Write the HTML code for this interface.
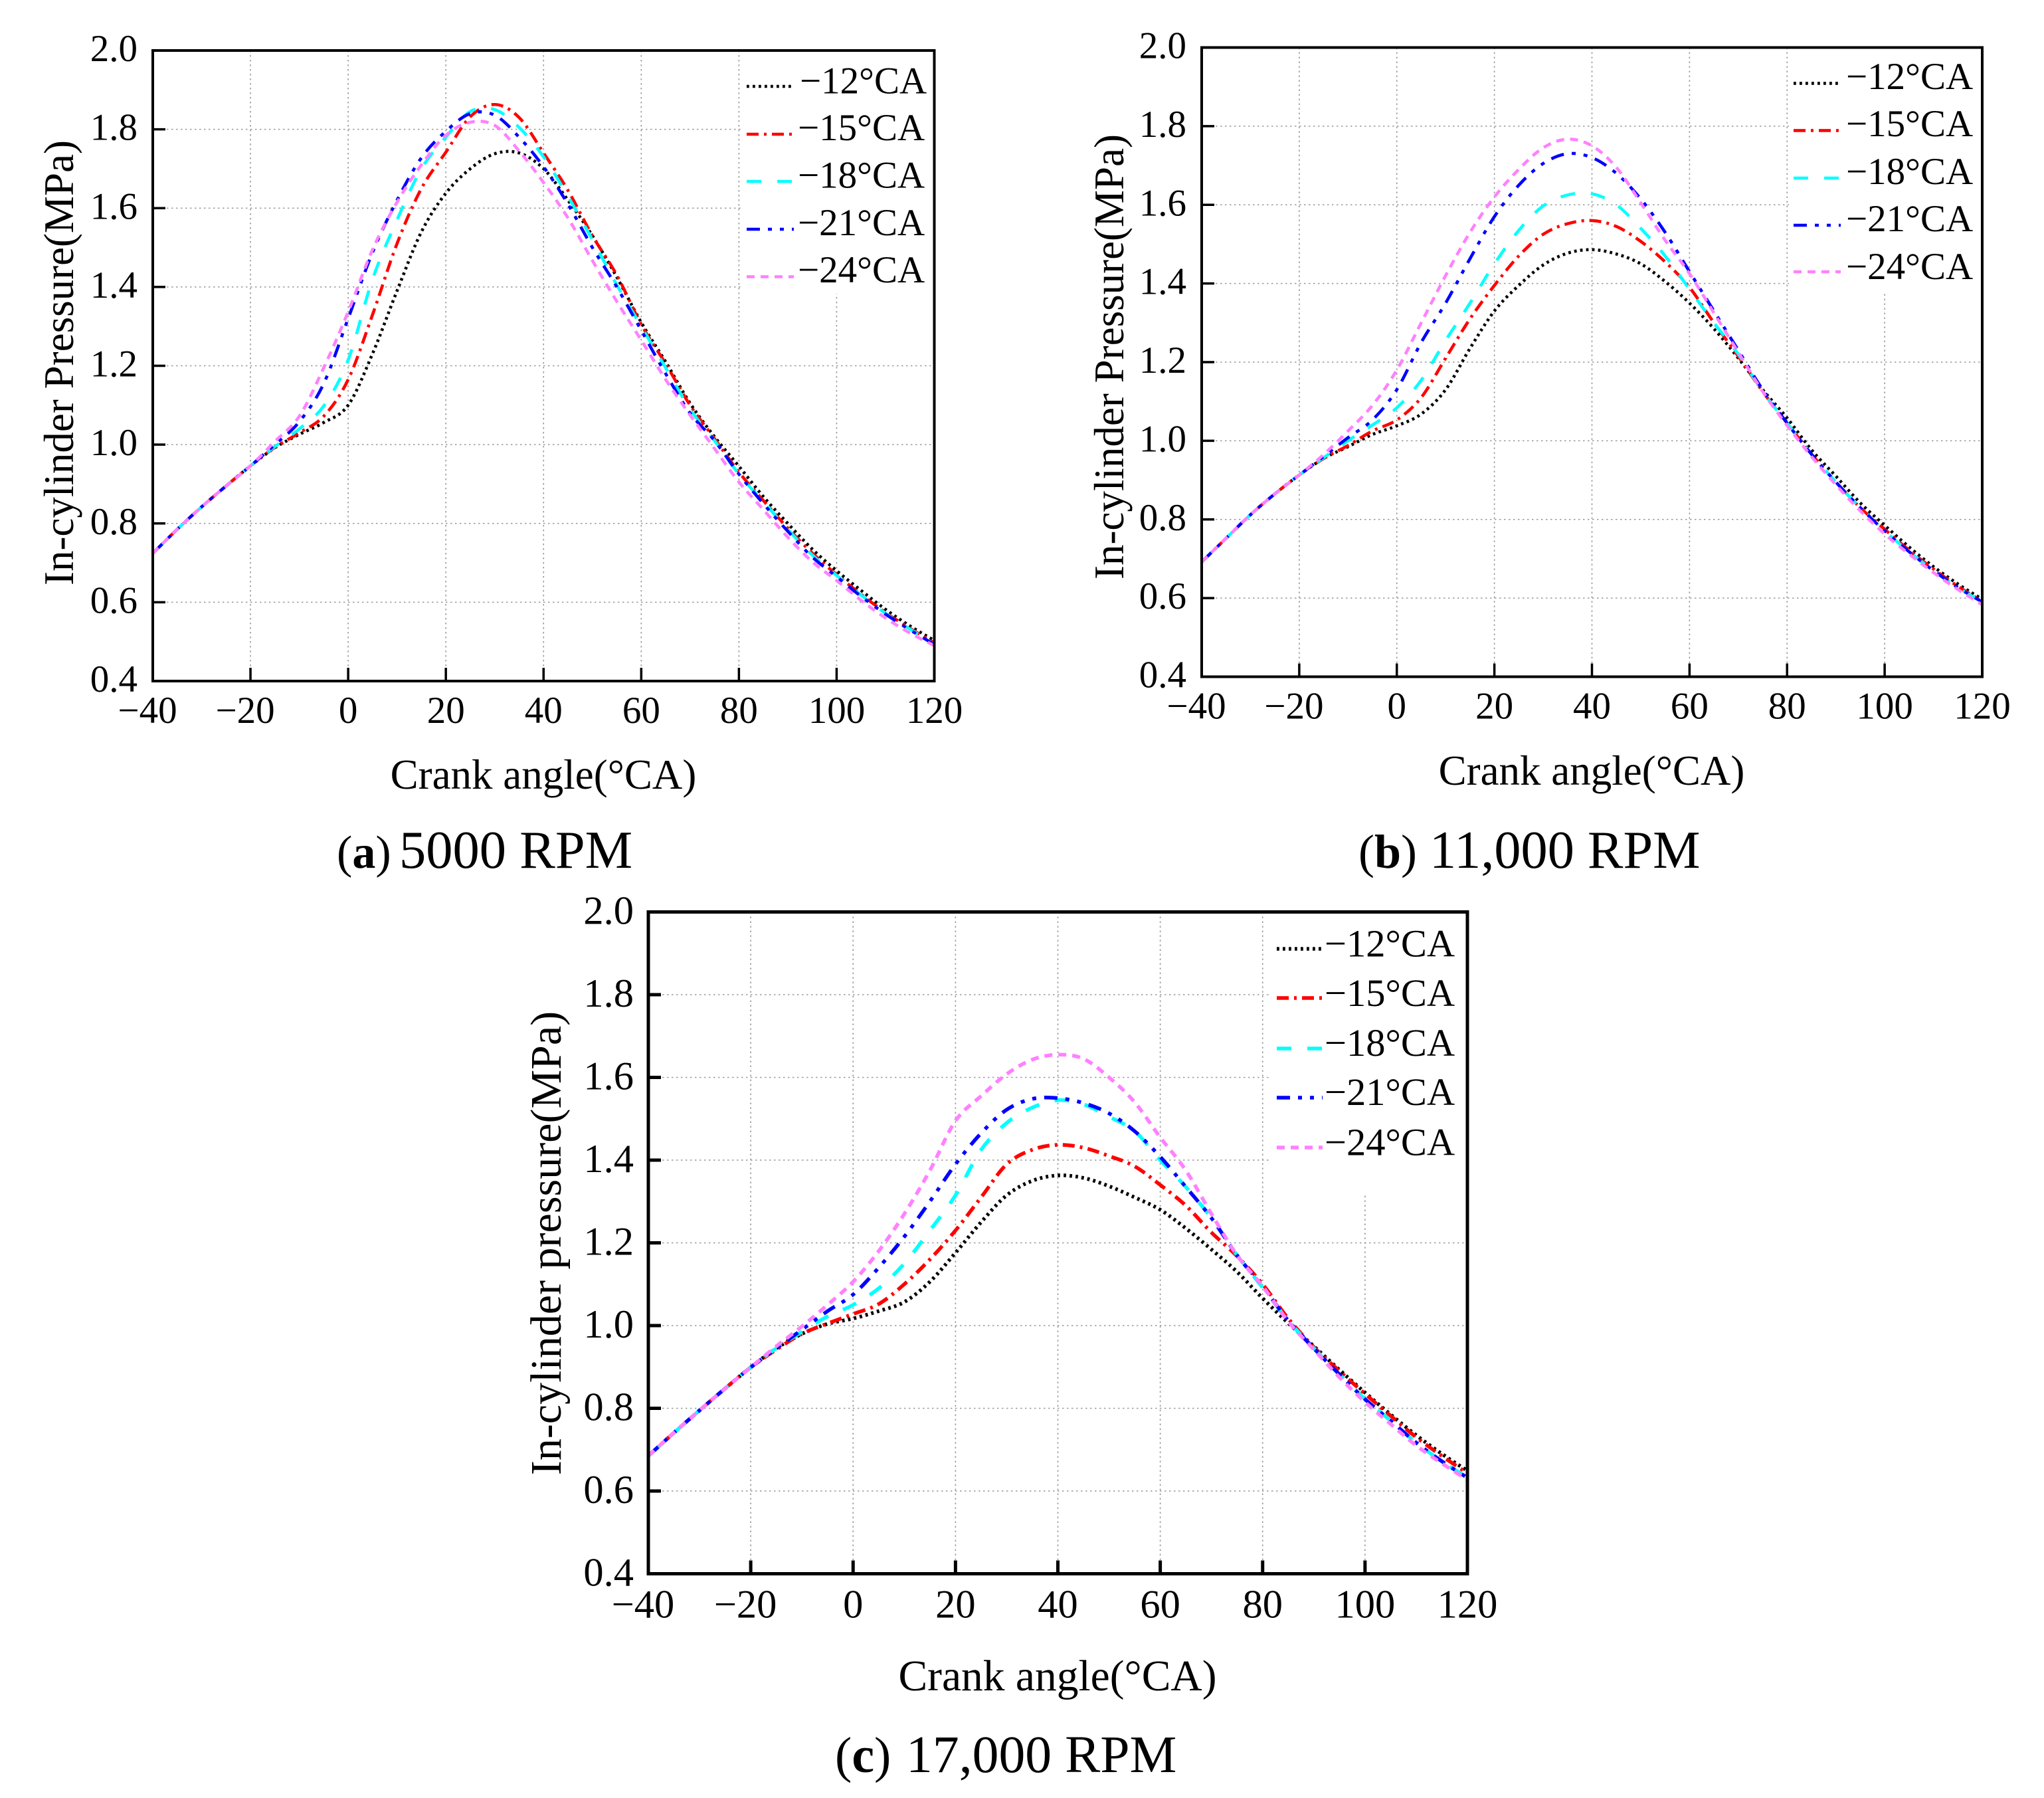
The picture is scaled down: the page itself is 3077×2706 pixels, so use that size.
<!DOCTYPE html>
<html lang="en">
<head>
<meta charset="utf-8">
<title>In-cylinder pressure vs crank angle</title>
<style>
  html, body { margin: 0; padding: 0; background: #fff; }
  svg { display: block; }
  text { font-family: "Liberation Serif", serif; fill: #000; }
  .s12, .s15, .s18, .s21, .s24 { fill: none; stroke-linecap: butt; stroke-linejoin: round; }
  .s12 { stroke: #000; stroke-dasharray: 3.8 5.2; }
  .s15 { stroke: #f00; stroke-dasharray: 18 8 4 8; }
  .s18 { stroke: #0ff; stroke-dasharray: 22 24; }
  .s21 { stroke: #00f; stroke-dasharray: 20 12 6 12 6 12; }
  .s24 { stroke: #ff80ff; stroke-dasharray: 12 9; }
  .grid { stroke: #999; stroke-width: 1.6; stroke-dasharray: 2.5 4.5; }
</style>
</head>
<body>
<svg xmlns="http://www.w3.org/2000/svg" width="3077" height="2706" viewBox="0 0 3077 2706">
  <rect width="3077" height="2706" fill="#fff"/>

  <!-- Panel a -->
  <g id="panel-a">
    <g id="a-grid"></g>
    <rect x="1115" y="78" width="289" height="364" fill="#fff"/>
    <g id="a-curves" stroke-width="4.6"></g>
    <rect x="230" y="76" width="1176.5" height="949" fill="none" stroke="#000" stroke-width="4"/>
    <g id="a-ticks"></g>
    <g font-size="57">
      <g stroke-width="4.6">
        <line class="s12" x1="1124" x2="1195" y1="130" y2="130"/>
        <line class="s15" x1="1124" x2="1195" y1="202" y2="202"/>
        <line class="s18" x1="1124" x2="1195" y1="273" y2="273"/>
        <line class="s21" x1="1124" x2="1195" y1="345" y2="345"/>
        <line class="s24" x1="1124" x2="1195" y1="416.5" y2="416.5"/>
      </g>
      <text x="1204" y="140.6">−12°CA</text>
      <text x="1201" y="211">−15°CA</text>
      <text x="1201" y="282.6">−18°CA</text>
      <text x="1201" y="354">−21°CA</text>
      <text x="1201" y="425">−24°CA</text>
    </g>
    <text x="818" y="1187" font-size="63" text-anchor="middle">Crank angle(°CA)</text>
    <text x="110" y="546" font-size="63" text-anchor="middle" transform="rotate(-90 110 546)">In-cylinder Pressure(MPa)</text>
    <text y="1306"><tspan x="507" font-size="70">(<tspan font-weight="bold">a</tspan>)</tspan><tspan x="601" font-size="80.5">5000 RPM</tspan></text>
  </g>

  <!-- Panel b -->
  <g id="panel-b">
    <g id="b-grid"></g>
    <rect x="2693" y="73" width="289" height="367" fill="#fff"/>
    <g id="b-curves" stroke-width="4.6"></g>
    <rect x="1809" y="71.5" width="1175" height="947" fill="none" stroke="#000" stroke-width="4"/>
    <g id="b-ticks"></g>
    <g font-size="57">
      <g stroke-width="4.6">
        <line class="s12" x1="2700" x2="2771" y1="125.4" y2="125.4"/>
        <line class="s15" x1="2700" x2="2771" y1="196.4" y2="196.4"/>
        <line class="s18" x1="2700" x2="2771" y1="268" y2="268"/>
        <line class="s21" x1="2700" x2="2771" y1="339" y2="339"/>
        <line class="s24" x1="2700" x2="2771" y1="409" y2="409"/>
      </g>
      <text x="2779" y="134">−12°CA</text>
      <text x="2779" y="205">−15°CA</text>
      <text x="2779" y="277">−18°CA</text>
      <text x="2779" y="348">−21°CA</text>
      <text x="2779" y="420">−24°CA</text>
    </g>
    <text x="2396" y="1181" font-size="63" text-anchor="middle">Crank angle(°CA)</text>
    <text x="1691" y="537" font-size="63" text-anchor="middle" transform="rotate(-90 1691 537)">In-cylinder Pressure(MPa)</text>
    <text y="1306"><tspan x="2045" font-size="72">(<tspan font-weight="bold">b</tspan>)</tspan><tspan x="2152" font-size="80.3">11,000 RPM</tspan></text>
  </g>

  <!-- Panel c -->
  <g id="panel-c">
    <g id="c-grid"></g>
    <rect x="1913" y="1375" width="294" height="422" fill="#fff"/>
    <g id="c-curves" stroke-width="5.5"></g>
    <rect x="976" y="1372.5" width="1233" height="996" fill="none" stroke="#000" stroke-width="5"/>
    <g id="c-ticks"></g>
    <g font-size="58.5">
      <g stroke-width="5.5">
        <line class="s12" x1="1922" x2="1991" y1="1428" y2="1428"/>
        <line class="s15" x1="1922" x2="1991" y1="1502" y2="1502"/>
        <line class="s18" x1="1922" x2="1991" y1="1578" y2="1578"/>
        <line class="s21" x1="1922" x2="1991" y1="1652" y2="1652"/>
        <line class="s24" x1="1922" x2="1991" y1="1727" y2="1727"/>
      </g>
      <text x="1994" y="1439.5">−12°CA</text>
      <text x="1994" y="1514">−15°CA</text>
      <text x="1994" y="1589">−18°CA</text>
      <text x="1994" y="1663">−21°CA</text>
      <text x="1994" y="1738.5">−24°CA</text>
    </g>
    <text x="1592" y="2544" font-size="65.5" text-anchor="middle">Crank angle(°CA)</text>
    <text x="844" y="1871" font-size="66" text-anchor="middle" transform="rotate(-90 844 1871)">In-cylinder pressure(MPa)</text>
    <text y="2667"><tspan x="1257" font-size="76">(<tspan font-weight="bold">c</tspan>)</tspan><tspan x="1364" font-size="79.7">17,000 RPM</tspan></text>
  </g>
</svg>

<script>
// ---- Data ----
const angles = [-40,-35,-30,-25,-20,-15,-10,-5,0,5,10,15,20,25,30,35,40,45,50,55,60,65,70,75,80,85,90,95,100,105,110,115,120];

const xTickValues = [-40,-20,0,20,40,60,80,100,120];
const xTickLabels = ["−40","−20","0","20","40","60","80","100","120"];
const yTickValues = [0.4,0.6,0.8,1.0,1.2,1.4,1.6,1.8,2.0];
const yTickLabels = ["0.4","0.6","0.8","1.0","1.2","1.4","1.6","1.8","2.0"];
const xGridValues = [-20,0,20,40,60,80,100];
const yGridValues = [0.6,0.8,1.0,1.2,1.4,1.6,1.8];

const a12 = [.724,.785,.842,.895,.946,.992,1.026,1.056,1.10,1.231,1.39,1.54,1.638,1.70,1.738,1.74,1.70,1.62,1.53,1.425,1.31,1.21,1.105,1.02,.945,.868,.80,.735,.68,.63,.582,.54,.503];
const a15 = [.724,.785,.842,.895,.946,.993,1.03,1.072,1.165,1.33,1.51,1.65,1.742,1.832,1.863,1.83,1.74,1.645,1.53,1.43,1.305,1.205,1.10,1.015,.93,.858,.788,.725,.67,.62,.574,.534,.497];
const a18 = [.724,.785,.842,.895,.946,.995,1.04,1.098,1.215,1.42,1.57,1.70,1.78,1.845,1.85,1.805,1.73,1.63,1.52,1.405,1.30,1.195,1.09,1.01,.925,.855,.785,.72,.668,.618,.572,.532,.495];
const a21 = [.724,.785,.842,.895,.946,1.0,1.058,1.155,1.32,1.488,1.62,1.728,1.795,1.84,1.836,1.78,1.705,1.61,1.50,1.40,1.29,1.18,1.08,1.01,.925,.85,.78,.715,.665,.615,.57,.53,.493];
const a24 = [.724,.785,.842,.895,.946,1.008,1.072,1.195,1.337,1.495,1.615,1.71,1.785,1.818,1.81,1.745,1.665,1.575,1.467,1.363,1.265,1.165,1.075,.99,.905,.835,.765,.703,.655,.605,.56,.522,.49];

const b12 = [.692,.752,.812,.865,.913,.955,.985,1.016,1.038,1.068,1.13,1.235,1.33,1.395,1.447,1.477,1.486,1.475,1.45,1.405,1.35,1.285,1.21,1.13,1.058,.977,.91,.842,.785,.73,.68,.636,.597];
const b15 = [.692,.752,.812,.865,.913,.955,.988,1.025,1.053,1.11,1.21,1.31,1.395,1.47,1.525,1.552,1.56,1.545,1.507,1.455,1.39,1.30,1.215,1.125,1.045,.966,.895,.83,.775,.722,.674,.63,.592];
const b18 = [.692,.752,.812,.865,.913,.957,1.0,1.04,1.084,1.154,1.255,1.35,1.45,1.535,1.597,1.625,1.628,1.60,1.54,1.47,1.385,1.30,1.22,1.125,1.045,.966,.895,.83,.771,.718,.67,.627,.59];
const b21 = [.692,.752,.812,.865,.913,.96,1.008,1.053,1.13,1.25,1.35,1.463,1.57,1.65,1.705,1.73,1.72,1.68,1.615,1.53,1.43,1.33,1.23,1.13,1.045,.966,.895,.83,.771,.718,.67,.627,.59];
const b24 = [.692,.752,.812,.865,.913,.965,1.025,1.09,1.18,1.30,1.42,1.53,1.62,1.69,1.745,1.767,1.75,1.695,1.605,1.51,1.425,1.325,1.225,1.125,1.039,.96,.888,.822,.763,.712,.665,.622,.583];

const c12 = [.685,.741,.795,.848,.899,.945,.98,1.004,1.017,1.035,1.057,1.106,1.176,1.25,1.315,1.35,1.363,1.357,1.337,1.31,1.28,1.235,1.184,1.13,1.066,1.006,.95,.893,.838,.785,.735,.69,.649];
const c15 = [.685,.741,.795,.848,.899,.942,.98,1.005,1.028,1.052,1.10,1.16,1.23,1.31,1.39,1.425,1.437,1.43,1.41,1.385,1.34,1.29,1.225,1.168,1.10,1.017,.948,.89,.835,.782,.73,.685,.643];
const c18 = [.685,.741,.795,.848,.899,.945,.985,1.022,1.05,1.09,1.15,1.23,1.315,1.425,1.49,1.527,1.545,1.535,1.505,1.47,1.40,1.335,1.26,1.17,1.092,1.012,.945,.882,.822,.77,.717,.672,.632];
const c21 = [.685,.741,.795,.848,.899,.945,.99,1.035,1.075,1.14,1.215,1.30,1.39,1.465,1.522,1.548,1.55,1.538,1.513,1.47,1.408,1.335,1.26,1.17,1.095,1.012,.945,.882,.822,.77,.717,.672,.632];
const c24 = [.685,.741,.795,.848,.899,.95,.998,1.05,1.106,1.18,1.27,1.375,1.495,1.555,1.608,1.643,1.655,1.645,1.60,1.54,1.455,1.375,1.27,1.17,1.095,1.01,.942,.875,.815,.762,.71,.667,.627];

// ---- Drawing ----
const SVG_NS = 'http://www.w3.org/2000/svg';

function panelAxes(left, right, top, bottom) {
  return {
    x: function (v) { return left + (v + 40) / 160 * (right - left); },
    y: function (v) { return bottom - (v - 0.4) / 1.6 * (bottom - top); },
    left: left, right: right, top: top, bottom: bottom
  };
}

function smoothPath(px, py) {
  let d = 'M' + px[0].toFixed(2) + ' ' + py[0].toFixed(2);
  const n = px.length;
  for (let i = 0; i < n - 1; i++) {
    const i0 = Math.max(i - 1, 0), i3 = Math.min(i + 2, n - 1);
    const c1x = px[i] + (px[i + 1] - px[i0]) / 6;
    const c1y = py[i] + (py[i + 1] - py[i0]) / 6;
    const c2x = px[i + 1] - (px[i3] - px[i]) / 6;
    const c2y = py[i + 1] - (py[i3] - py[i]) / 6;
    d += 'C' + c1x.toFixed(2) + ' ' + c1y.toFixed(2) + ' ' + c2x.toFixed(2) + ' ' + c2y.toFixed(2) + ' ' + px[i + 1].toFixed(2) + ' ' + py[i + 1].toFixed(2);
  }
  return d;
}

function drawPanel(id, axes, series, opts) {
  const grid = document.getElementById(id + '-grid');
  const curves = document.getElementById(id + '-curves');
  const ticks = document.getElementById(id + '-ticks');

  xGridValues.forEach(function (v) {
    const el = document.createElementNS(SVG_NS, 'line');
    el.setAttribute('class', 'grid');
    el.setAttribute('x1', axes.x(v));
    el.setAttribute('x2', axes.x(v));
    el.setAttribute('y1', axes.top);
    el.setAttribute('y2', axes.bottom);
    
    
    grid.appendChild(el);
  });
  yGridValues.forEach(function (v) {
    const el = document.createElementNS(SVG_NS, 'line');
    el.setAttribute('class', 'grid');
    el.setAttribute('x1', axes.left);
    el.setAttribute('x2', axes.right);
    el.setAttribute('y1', axes.y(v));
    el.setAttribute('y2', axes.y(v));
    
    
    grid.appendChild(el);
  });

  series.forEach(function (s) {
    const el = document.createElementNS(SVG_NS, 'path');
    el.setAttribute('class', s.cls);
    el.setAttribute('d', smoothPath(angles.map(axes.x), s.values.map(axes.y)));
    
    
    curves.appendChild(el);
  });

  xTickValues.forEach(function (v, i) {
    if (i > 0 && i < xTickValues.length - 1) {
      const t = document.createElementNS(SVG_NS, 'line');
      t.setAttribute('x1', axes.x(v));
      t.setAttribute('x2', axes.x(v));
      t.setAttribute('y1', axes.bottom);
      t.setAttribute('y2', axes.bottom - 20);
      t.setAttribute('stroke', '#000');
      t.setAttribute('stroke-width', opts.tickWidth);
      
      
      ticks.appendChild(t);
    }
    const label = document.createElementNS(SVG_NS, 'text');
    const shift = xTickLabels[i].charAt(0) === '−' ? -8 : 0;
    label.setAttribute('x', axes.x(v) + shift);
    label.setAttribute('y', axes.bottom + opts.xLabelDrop);
    label.setAttribute('font-size', opts.fontSize);
    label.setAttribute('text-anchor', 'middle');
    
    
    label.textContent = xTickLabels[i];
    ticks.appendChild(label);
  });

  yTickValues.forEach(function (v, i) {
    if (i > 0 && i < yTickValues.length - 1) {
      const t = document.createElementNS(SVG_NS, 'line');
      t.setAttribute('x1', axes.left);
      t.setAttribute('x2', axes.left + 19);
      t.setAttribute('y1', axes.y(v));
      t.setAttribute('y2', axes.y(v));
      t.setAttribute('stroke', '#000');
      t.setAttribute('stroke-width', opts.tickWidth);
      
      
      ticks.appendChild(t);
    }
    const label = document.createElementNS(SVG_NS, 'text');
    label.setAttribute('x', axes.left - opts.yLabelGap);
    label.setAttribute('y', axes.y(v) + opts.yLabelDrop);
    label.setAttribute('font-size', opts.fontSize);
    label.setAttribute('text-anchor', 'end');
    
    
    label.textContent = yTickLabels[i];
    ticks.appendChild(label);
  });
}

drawPanel('a', panelAxes(230, 1406.5, 76, 1025), [
  { cls: 's12', values: a12 }, { cls: 's15', values: a15 }, { cls: 's18', values: a18 },
  { cls: 's21', values: a21 }, { cls: 's24', values: a24 }
], { tickWidth: 3.5, fontSize: 57, xLabelDrop: 63, yLabelGap: 23, yLabelDrop: 16 });

drawPanel('b', panelAxes(1809, 2984, 71.5, 1018.5), [
  { cls: 's12', values: b12 }, { cls: 's15', values: b15 }, { cls: 's18', values: b18 },
  { cls: 's21', values: b21 }, { cls: 's24', values: b24 }
], { tickWidth: 3.5, fontSize: 57, xLabelDrop: 63, yLabelGap: 23, yLabelDrop: 16 });

drawPanel('c', panelAxes(976, 2209, 1372.5, 2368.5), [
  { cls: 's12', values: c12 }, { cls: 's15', values: c15 }, { cls: 's18', values: c18 },
  { cls: 's21', values: c21 }, { cls: 's24', values: c24 }
], { tickWidth: 5, fontSize: 60.5, xLabelDrop: 66, yLabelGap: 22, yLabelDrop: 18 });
</script>
</body>
</html>
